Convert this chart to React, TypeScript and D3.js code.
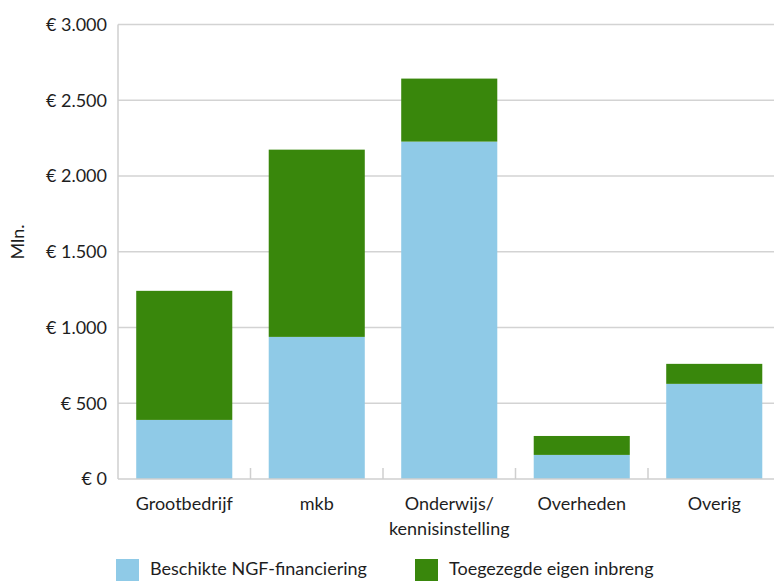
import React, { useEffect, useRef } from "react";
import * as d3 from "d3";

const categories = ["Grootbedrijf", "mkb", "Onderwijs/\nkennisinstelling", "Overheden", "Overig"];
const ngfFinanciering = [390, 938, 2227, 159, 628];
const eigenInbreng = [852, 1236, 416, 125, 132];
const seriesNames = ["Beschikte NGF-financiering", "Toegezegde eigen inbreng"];
const seriesColors = ["#8fcae7", "#39870c"];
const yTicks = [0, 500, 1000, 1500, 2000, 2500, 3000];
const yTickLabels = ["€ 0", "€ 500", "€ 1.000", "€ 1.500", "€ 2.000", "€ 2.500", "€ 3.000"];

const W = 774;
const H = 581;
const FONT = "Lato, 'Noto Sans', sans-serif";

export default function App() {
  const ref = useRef<SVGSVGElement | null>(null);

  useEffect(() => {
    const svg = d3.select(ref.current);
    svg.selectAll("*").remove();

    const left = 118;
    const right = 780.5;
    const top = 24.5;
    const bottom = 479;

    const x = d3.scaleBand<string>().domain(categories).range([left, right]).paddingInner(0.275).paddingOuter(0.1375);
    const y = d3.scaleLinear().domain([0, 3000]).range([bottom, top]);

    const rows = categories.map((c, i) => ({ cat: c, ngf: ngfFinanciering[i], eigen: eigenInbreng[i] }));
    const stacked = d3.stack<any>().keys(["ngf", "eigen"])(rows);

    // gridlines
    svg.append("g")
      .selectAll("line")
      .data(yTicks.filter((t) => t > 0))
      .join("line")
      .attr("x1", left).attr("x2", W)
      .attr("y1", (d) => y(d)).attr("y2", (d) => y(d))
      .attr("stroke", "#d3d3d3").attr("stroke-width", 1.5);

    // y labels
    svg.append("g")
      .selectAll("text")
      .data(yTicks)
      .join("text")
      .attr("x", 107).attr("y", (d) => y(d))
      .attr("dy", "0.35em")
      .attr("text-anchor", "end")
      .attr("font-family", FONT).attr("font-size", 18).attr("fill", "#1e1e1e")
      .text((d, i) => yTickLabels[i]);

    // bars
    stacked.forEach((layer, si) => {
      svg.append("g")
        .attr("fill", seriesColors[si])
        .selectAll("rect")
        .data(layer)
        .join("rect")
        .attr("x", (d: any) => x(d.data.cat)!)
        .attr("width", x.bandwidth())
        .attr("y", (d) => y(d[1]))
        .attr("height", (d) => y(d[0]) - y(d[1]));
    });

    // axes lines
    svg.append("line").attr("x1", left).attr("x2", left).attr("y1", top).attr("y2", bottom)
      .attr("stroke", "#cfcfcf").attr("stroke-width", 1.5);
    svg.append("line").attr("x1", left).attr("x2", W).attr("y1", bottom).attr("y2", bottom)
      .attr("stroke", "#cfcfcf").attr("stroke-width", 1.5);

    // category separator ticks
    const half = (x.step() * x.paddingInner()) / 2;
    svg.append("g")
      .selectAll("line")
      .data(categories.slice(1))
      .join("line")
      .attr("x1", (d) => x(d)! - half).attr("x2", (d) => x(d)! - half)
      .attr("y1", bottom).attr("y2", bottom - 11)
      .attr("stroke", "#cfcfcf").attr("stroke-width", 1.5);

    // category labels
    const cl = svg.append("g")
      .selectAll("text")
      .data(categories)
      .join("text")
      .attr("x", (d) => x(d)! + x.bandwidth() / 2)
      .attr("y", 510)
      .attr("text-anchor", "middle")
      .attr("font-family", FONT).attr("font-size", 18).attr("fill", "#1e1e1e");
    cl.each(function (d) {
      const t = d3.select(this);
      d.split("\n").forEach((line, i) => {
        t.append("tspan").attr("x", x(d)! + x.bandwidth() / 2).attr("dy", i === 0 ? 0 : 25).text(line);
      });
    });

    // y title
    svg.append("text")
      .attr("transform", "translate(24,242) rotate(-90)")
      .attr("text-anchor", "middle")
      .attr("font-family", FONT).attr("font-size", 18).attr("fill", "#1e1e1e")
      .text("Mln.");

    // legend
    const legendX = [116, 415];
    const lg = svg.append("g")
      .selectAll("g")
      .data(seriesNames)
      .join("g")
      .attr("transform", (d, i) => `translate(${legendX[i]},559)`);
    lg.append("rect").attr("width", 23).attr("height", 22).attr("fill", (d, i) => seriesColors[i]);
    lg.append("text").attr("x", 34).attr("y", 16)
      .attr("font-family", FONT).attr("font-size", 18).attr("fill", "#1e1e1e")
      .text((d) => d);
  }, []);

  return (
    <svg
      ref={ref}
      width={W}
      height={H}
      style={{ position: "absolute", left: 0, top: 0, background: "#fff" }}
    />
  );
}
